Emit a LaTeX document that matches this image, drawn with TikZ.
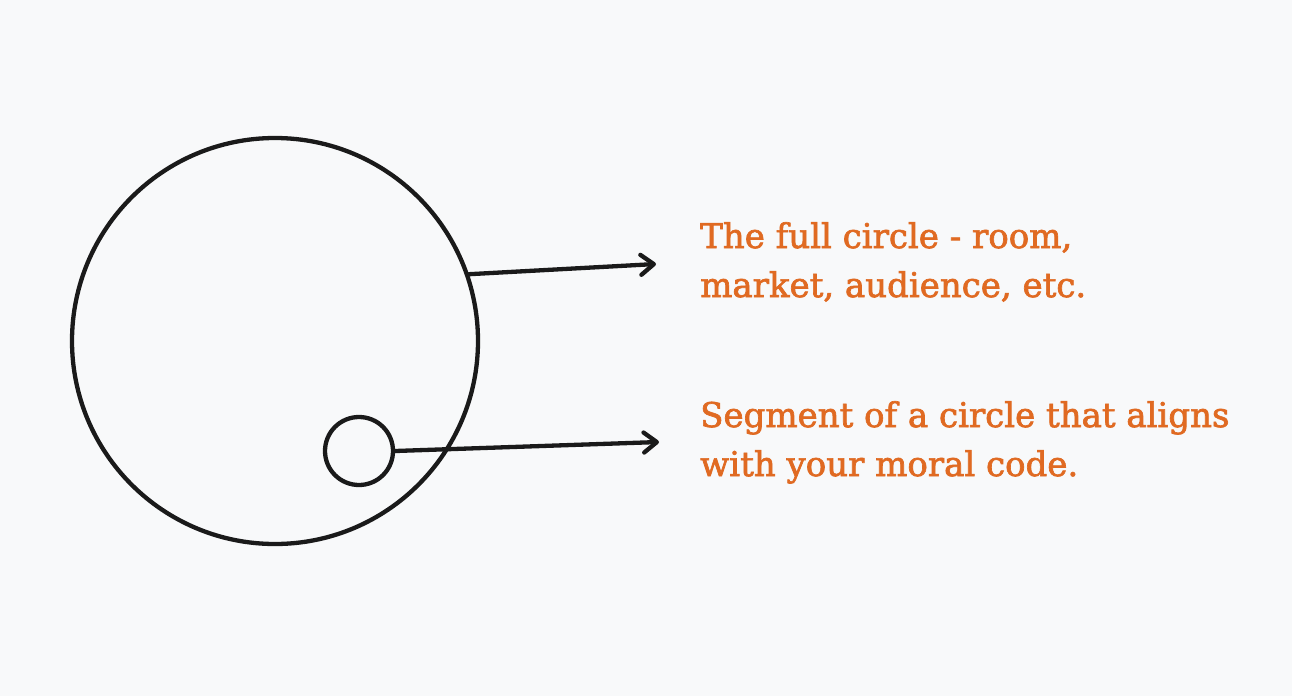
\documentclass[tikz,border=0pt]{standalone}
\usepackage{fontspec}
\newfontfamily\labelfont[FakeBold=2]{DejaVu Serif}
\usetikzlibrary{arrows.meta}
\definecolor{bgpaper}{RGB}{248,249,250}
\definecolor{labelorange}{RGB}{224,106,34}
\definecolor{inkline}{RGB}{26,26,26}
\begin{document}
\begin{tikzpicture}[x=1pt,y=-1pt,
  ringline/.style={draw=inkline, line width=4.3pt, circle, inner sep=0pt},
  pointer/.style={draw=inkline, line width=4.3pt, line cap=round,
    -{Straight Barb[length=13pt,width=20pt,line cap=round,line join=round]}},
  labeltext/.style={anchor=base west, inner sep=0pt, align=left, text=labelorange,
    font=\labelfont\fontsize{34}{49}\selectfont}]
  % 背景
  \fill[bgpaper] (0,0) rectangle (1292,696);
  \useasboundingbox (0,0) rectangle (1292,696);
  % 圆
  \node[ringline, minimum size=406pt] (room) at (275,341) {};
  \node[ringline, minimum size=68pt] (segment) at (359,451) {};
  % 文字
  \node[labeltext] (fulltext) at (700,297) {The full circle - room,\\market, audience, etc.};
  \node[labeltext] (segtext) at (700,476) {Segment of a circle that aligns\\with your moral code.};
  % 箭头
  \coordinate (tipfull) at (656,264);
  \coordinate (tipseg) at (659,442);
  \draw[pointer] (room.19.5) -- (tipfull);
  \draw[pointer] (segment.east) -- (tipseg);
\end{tikzpicture}
\end{document}
